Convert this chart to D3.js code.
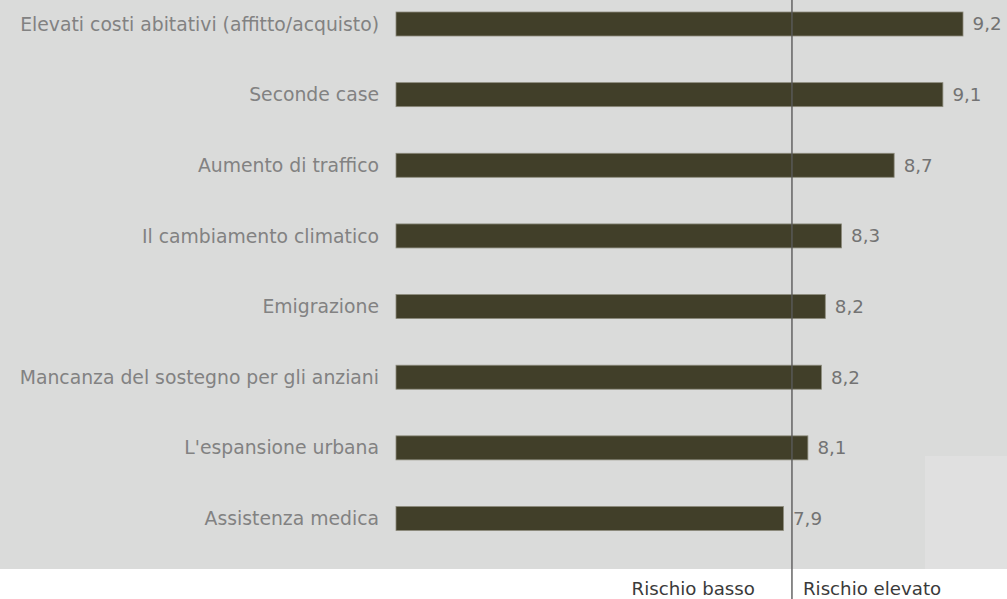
<!DOCTYPE html>
<meta charset="utf-8">
<style>
    body {
        margin: 0;
        background: #ffffff;
        font-family: "DejaVu Sans", Verdana, sans-serif;
    }

    .cat-label {
        fill: #828282;
        font-size: 18.8px;
    }

    .value-label {
        fill: #737373;
        font-size: 18.3px;
    }

    .risk-label {
        fill: #3a3a3a;
        font-size: 18.2px;
    }
</style>

<body>
    <svg id="chart" width="1007" height="599"></svg>

    <script src="https://cdnjs.cloudflare.com/ajax/libs/d3/7.8.5/d3.min.js"></script>

    <script>
        // categories, top to bottom
        var categories = [
            "Elevati costi abitativi (affitto/acquisto)",
            "Seconde case",
            "Aumento di traffico",
            "Il cambiamento climatico",
            "Emigrazione",
            "Mancanza del sostegno per gli anziani",
            "L'espansione urbana",
            "Assistenza medica"
        ];

        // scores (labels show one decimal)
        var values = [9.2, 9.051, 8.69, 8.3, 8.18, 8.151, 8.051, 7.87];

        // risk threshold and its two labels
        var threshold = 7.933;
        var riskLabels = ["Rischio basso", "Rischio elevato"];

        var renderChart = function () {
            var svg = d3.select("#chart"),
                width = +svg.attr("width"),
                height = +svg.attr("height"),
                plotBottom = 569;

            var x = d3.scaleLinear()
                .domain([5, 10])
                .range([396, 1071]);

            var y = d3.scalePoint()
                .domain(categories)
                .range([24, 518.5]);

            var barHeight = 24;
            var fmt = function (v) { return d3.format(".1f")(v).replace(".", ","); };

            // grey panel
            svg.append("rect")
                .attr("width", width)
                .attr("height", plotBottom)
                .attr("fill", "#dadbda");

            svg.append("rect")
                .attr("x", 925)
                .attr("y", 456)
                .attr("width", width - 925)
                .attr("height", plotBottom - 456)
                .attr("fill", "#e0e0e0");

            var g = svg.append("g");

            g.selectAll("rect.bar")
                .data(values)
                .enter().append("rect")
                .attr("class", "bar")
                .attr("x", x(5))
                .attr("y", function (d, i) { return y(categories[i]) - barHeight / 2; })
                .attr("width", function (d) { return x(d) - x(5); })
                .attr("height", barHeight)
                .attr("fill", "#413f29")
                .attr("stroke", "#8c8b7c")
                .attr("stroke-width", 0.8);

            g.selectAll("text.cat-label")
                .data(categories)
                .enter().append("text")
                .attr("class", "cat-label")
                .attr("x", 379)
                .attr("y", function (d) { return y(d); })
                .attr("dy", ".35em")
                .attr("text-anchor", "end")
                .text(function (d) { return d; });

            g.selectAll("text.value-label")
                .data(values)
                .enter().append("text")
                .attr("class", "value-label")
                .attr("x", function (d) { return x(d) + 9.5; })
                .attr("y", function (d, i) { return y(categories[i]); })
                .attr("dy", ".35em")
                .text(function (d) { return fmt(d); });

            // threshold line
            svg.append("line")
                .attr("x1", x(threshold))
                .attr("x2", x(threshold))
                .attr("y1", 0)
                .attr("y2", height)
                .attr("stroke", "#5a5a5a")
                .attr("stroke-width", 1.4);

            svg.append("text")
                .attr("class", "risk-label")
                .attr("x", x(threshold) - 37)
                .attr("y", 595)
                .attr("text-anchor", "end")
                .text(riskLabels[0]);

            svg.append("text")
                .attr("class", "risk-label")
                .attr("x", x(threshold) + 11)
                .attr("y", 595)
                .text(riskLabels[1]);
        }
        renderChart();
    </script>
</body>
